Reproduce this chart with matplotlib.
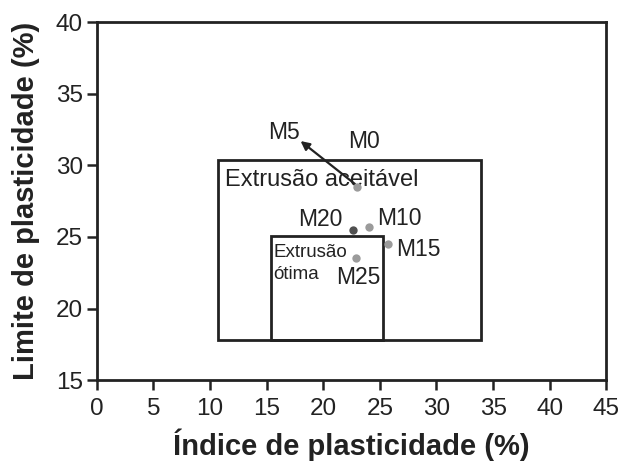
import matplotlib
matplotlib.use("Agg")
import matplotlib.pyplot as plt
from matplotlib.patches import Rectangle

plt.rcParams["font.family"] = ["Liberation Sans", "DejaVu Sans"]

# mixtures: plasticity index (x) vs plastic limit (y)
names = ["M0", "M10", "M15", "M20", "M25"]
ip = [23.0, 24.0, 25.7, 22.6, 22.9]
lp = [28.5, 25.7, 24.5, 25.5, 23.5]
colors = ["#9b9b9b", "#9b9b9b", "#9b9b9b", "#505050", "#9b9b9b"]

# label positions (data coords)
lab_x = [23.6, 26.7, 28.4, 19.7, 23.1]
lab_y = [31.7, 26.3, 24.1, 26.2, 22.2]

# M5 lies off the point cloud, pointed to by an arrow from M0
m5_tail = (22.8, 28.7)
m5_head = (18.0, 31.7)
m5_label = (16.5, 32.3)

# extrusion zones: (x0, x1, y0, y1)
zone_ok = [10.7, 33.9, 17.8, 30.4]
zone_best = [15.4, 25.3, 17.8, 25.1]

INK = "#222222"

fig = plt.figure(figsize=(6.2, 4.63), dpi=100)
ax = fig.add_axes([0.156, 0.179, 0.822, 0.773])

for z in (zone_ok, zone_best):
    ax.add_patch(Rectangle((z[0], z[2]), z[1] - z[0], z[3] - z[2],
                           facecolor="none", edgecolor=INK, lw=2, zorder=2))

ax.text(11.3, 29.0, "Extrusão aceitável", fontsize=17, ha="left", va="center", color=INK)
ax.text(15.6, 23.9, "Extrusão", fontsize=13.5, ha="left", va="center", color=INK)
ax.text(15.6, 22.35, "ótima", fontsize=13.5, ha="left", va="center", color=INK)

ax.annotate("", xy=m5_head, xytext=m5_tail,
            arrowprops=dict(arrowstyle="-|>", color=INK, lw=1.6,
                            mutation_scale=13, shrinkA=0, shrinkB=0), zorder=4)
ax.text(m5_label[0], m5_label[1], "M5", fontsize=16.5, ha="center", va="center", color=INK)

for n, x, y, c, tx, ty in zip(names, ip, lp, colors, lab_x, lab_y):
    ax.plot(x, y, "o", ms=6, color=c, mec="none", zorder=5)
    ax.text(tx, ty, n, fontsize=16.5, ha="center", va="center", color=INK)

ax.set_xlim(0, 45)
ax.set_ylim(15, 40)
ax.set_xticks(range(0, 46, 5))
ax.set_yticks(range(15, 41, 5))
ax.tick_params(labelsize=17.5, length=7, width=1.8, colors=INK, direction="out")
ax.tick_params(axis="x", pad=6)
ax.tick_params(axis="y", pad=3)
for s in ax.spines.values():
    s.set_linewidth(2)
    s.set_color(INK)

ax.set_xlabel("Índice de plasticidade (%)", fontsize=21, fontweight="bold", color=INK)
ax.set_ylabel("Limite de plasticidade (%)", fontsize=21, fontweight="bold", color=INK)
ax.xaxis.label.set_va("baseline")
ax.yaxis.label.set_va("baseline")
ax.xaxis.set_label_coords(0.5, -0.21)
ax.yaxis.set_label_coords(-0.124, 0.5)

fig.savefig("out.png", dpi=100)
